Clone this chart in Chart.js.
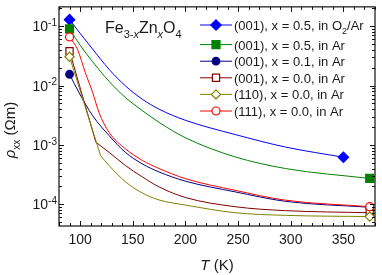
<!DOCTYPE html>
<html>
<head>
<meta charset="utf-8">
<script src="https://cdn.jsdelivr.net/npm/chart.js@4.4.0/dist/chart.umd.min.js"></script>
<style>
  html, body { margin: 0; padding: 0; background: #fff; }
  canvas { display: block; }
</style>
</head>
<body>
<canvas id="rho" width="382" height="275"></canvas>
<script>
// temperatures (K) and resistivities (Ohm m)
const tBlue = [90, 99, 112, 127.5, 143, 159, 175, 200, 247, 295, 350];
const rhoBlue = [0.129, 0.080, 0.041, 0.0188, 0.0099, 0.0059, 0.0040, 0.0026, 0.0015, 0.00092, 0.00062];

const tGreen = [90, 100, 112, 127.5, 143, 159, 175, 200, 247, 295, 375];
const rhoGreen = [0.090, 0.048, 0.0251, 0.0118, 0.0063, 0.0038, 0.0024, 0.00132, 0.00063, 0.00040, 0.000272];

const tNavy = [90, 99, 112, 127.5, 143, 159, 175, 200, 247, 295, 375];
const rhoNavy = [0.0155, 0.0076, 0.0031, 0.00144, 0.00075, 0.00048, 0.00035, 0.000245, 0.000162, 0.000112, 0.000089];

const tBrown = [90, 115, 127.5, 143, 159, 175, 200, 247, 295, 375];
const rhoBrown = [0.038, 0.00111, 0.00075, 0.00045, 0.00029, 0.000196, 0.00013, 0.000091, 0.000078, 0.000072];

const tOlive = [90, 119.5, 127.5, 143, 159, 175, 200, 247, 295, 375];
const rhoOlive = [0.0306, 0.00066, 0.00045, 0.00024, 0.000155, 0.000118, 0.000097, 0.000072, 0.000065, 0.000062];

const tRed = [90, 97.5, 105, 112, 118, 127.5, 143, 159, 175, 200, 247, 295, 375];
const rhoRed = [0.066, 0.041, 0.0165, 0.0076, 0.0035, 0.00163, 0.00086, 0.00055, 0.00040, 0.00027, 0.000172, 0.000117, 0.000091];

const seriesLabels = [
  '(001), x = 0.5, in O_2/Ar',
  '(001), x = 0.5, in Ar',
  '(001), x = 0.1, in Ar',
  '(001), x = 0.0, in Ar',
  '(110), x = 0.0, in Ar',
  '(111), x = 0.0, in Ar'
];

const xTicks = [100, 150, 200, 250, 300, 350];
const yDecades = [-4, -3, -2, -1];

const FONT = '"Liberation Sans", Arial, sans-serif';

const series = [
  { t: tBlue, rho: rhoBlue, color: '#0000ff', style: 'diamond', r: 5.2, open: false },
  { t: tGreen, rho: rhoGreen, color: '#008000', style: 'square', r: 4, open: false },
  { t: tNavy, rho: rhoNavy, color: '#000080', style: 'circle', r: 3.8, open: false },
  { t: tBrown, rho: rhoBrown, color: '#800000', style: 'square', r: 3.6, open: true, kink: true },
  { t: tOlive, rho: rhoOlive, color: '#808000', style: 'diamond', r: 4.6, open: true, kink: true },
  { t: tRed, rho: rhoRed, color: '#ff0000', style: 'circle', r: 4, open: true }
];

function pts(t, rho, from, to) {
  return t.slice(from, to).map((v, i) => ({ x: v, y: rho[from + i] }));
}

function marker(ctx, style, x, y, r) {
  ctx.beginPath();
  if (style === 'circle') {
    ctx.arc(x, y, r, 0, Math.PI * 2);
  } else if (style === 'square') {
    ctx.rect(x - r, y - r, 2 * r, 2 * r);
  } else {
    ctx.moveTo(x, y - r); ctx.lineTo(x + r, y); ctx.lineTo(x, y + r); ctx.lineTo(x - r, y);
    ctx.closePath();
  }
  ctx.fill();
  ctx.stroke();
}

// simple rich text: parts are [text, mode], mode has s=sub, u=sup, i=italic
function rich(ctx, parts, x, y, size, align) {
  const fontOf = m => (m.includes('i') ? 'italic ' : '') +
    ((m.includes('s') || m.includes('u')) ? Math.round(size * 0.68) : size) + 'px ' + FONT;
  const widths = parts.map(p => { ctx.font = fontOf(p[1]); return ctx.measureText(p[0]).width; });
  const total = widths.reduce((a, b) => a + b, 0);
  let cx = align === 'center' ? x - total / 2 : align === 'right' ? x - total : x;
  ctx.textAlign = 'left';
  ctx.textBaseline = 'alphabetic';
  parts.forEach((p, i) => {
    ctx.font = fontOf(p[1]);
    let dy = 0;
    if (p[1].includes('s')) dy = size * 0.3;
    if (p[1].includes('u')) dy = -size * 0.38;
    ctx.fillText(p[0], cx, y + dy);
    cx += widths[i];
  });
}

function labelParts(s) {
  const out = [];
  s.split(/(_\w)/).forEach(seg => {
    if (!seg) return;
    if (seg[0] === '_') out.push([seg.slice(1), 's']);
    else out.push([seg, '']);
  });
  return out;
}

const datasets = [];
series.forEach((s, k) => {
  const n = s.t.length;
  const common = {
    borderColor: s.color,
    borderWidth: 1,
    pointStyle: s.style === 'diamond' ? 'rectRot' : s.style === 'square' ? 'rect' : 'circle',
    pointBackgroundColor: s.open ? '#ffffff' : s.color,
    pointBorderColor: s.color,
    pointBorderWidth: 1.2,
    order: 20 - k
  };
  // Chart.js rect radius -> half side = r * sqrt(1/2)
  const rr = s.style === 'square' ? s.r / Math.SQRT1_2 : s.r;
  if (s.kink) {
    datasets.push({ ...common, data: pts(s.t, s.rho, 0, 2), tension: 0,
      pointRadius: c => c.dataIndex === 0 ? rr : 0 });
    datasets.push({ ...common, data: pts(s.t, s.rho, 1, n), cubicInterpolationMode: 'monotone',
      pointRadius: c => c.dataIndex === n - 2 ? rr : 0 });
  } else {
    datasets.push({ ...common, data: pts(s.t, s.rho, 0, n), cubicInterpolationMode: 'monotone',
      pointRadius: c => (c.dataIndex === 0 || c.dataIndex === n - 1) ? rr : 0 });
  }
});

const decorations = {
  id: 'decorations',
  afterDraw(chart) {
    const { ctx, chartArea: a, scales: { x, y } } = chart;
    ctx.save();
    ctx.strokeStyle = '#111';
    ctx.fillStyle = '#111';
    ctx.lineWidth = 1.2;
    ctx.strokeRect(a.left, a.top, a.right - a.left, a.bottom - a.top);

    const seg = (x1, y1, x2, y2) => { ctx.beginPath(); ctx.moveTo(x1, y1); ctx.lineTo(x2, y2); ctx.stroke(); };
    ctx.lineWidth = 1;
    // x ticks, inward, top and bottom
    for (let t = 80; t <= 380; t += 10) {
      const px = Math.round(x.getPixelForValue(t)) + 0.5;
      const len = xTicks.includes(t) ? 5 : 3;
      seg(px, a.bottom, px, a.bottom - len);
      seg(px, a.top, px, a.top + len);
    }
    // y ticks, log minors
    for (let d = -5; d <= -1; d++) {
      for (let m = 1; m <= 9; m++) {
        const v = m * Math.pow(10, d);
        if (v < y.min || v > y.max) continue;
        const py = Math.round(y.getPixelForValue(v)) + 0.5;
        const len = m === 1 ? 5 : 3;
        seg(a.left, py, a.left + len, py);
        seg(a.right, py, a.right - len, py);
      }
    }

    // tick labels
    ctx.fillStyle = '#1a1a1a';
    ctx.font = '14px ' + FONT;
    ctx.textAlign = 'center';
    ctx.textBaseline = 'alphabetic';
    xTicks.forEach(t => ctx.fillText(String(t), x.getPixelForValue(t), a.bottom + 18));
    yDecades.forEach(d => {
      const py = y.getPixelForValue(Math.pow(10, d));
      rich(ctx, [['10', ''], [String(d), 'u']], a.left - 2, py + 5, 14, 'right');
    });

    // axis titles
    rich(ctx, [['T', 'i'], [' (K)', '']], (a.left + a.right) / 2, 270, 15, 'center');
    ctx.save();
    ctx.translate(15, 130);
    ctx.rotate(-Math.PI / 2);
    rich(ctx, [['\u03c1', 'i'], ['xx', 's'], [' (\u03a9m)', '']], 0, 0, 15, 'center');
    ctx.restore();

    // compound name
    rich(ctx, [['Fe', ''], ['3-', 's'], ['x', 'si'], ['Zn', ''], ['x', 'si'], ['O', ''], ['4', 's']], 105, 33, 16, 'left');

    // legend
    series.forEach((s, i) => {
      const ly = i === 0 ? 25 : 28 + i * 16.6;
      ctx.strokeStyle = s.color;
      ctx.lineWidth = 1;
      seg(200, ly, 232, ly);
      ctx.fillStyle = s.open ? '#ffffff' : s.color;
      ctx.lineWidth = 1.2;
      marker(ctx, s.style, 216, ly, s.r);
      ctx.fillStyle = '#1a1a1a';
      rich(ctx, labelParts(seriesLabels[i]), 234, ly + 5, 13, 'left');
    });
    ctx.restore();
  }
};

new Chart(document.getElementById('rho'), {
  type: 'line',
  data: { datasets },
  options: {
    responsive: false,
    animation: false,
    devicePixelRatio: 1,
    events: [],
    layout: { padding: { left: 59, top: 5, right: 7, bottom: 49 } },
    scales: {
      x: { type: 'linear', min: 80, max: 380, display: false },
      y: { type: 'logarithmic', min: 4.3e-5, max: 0.212, display: false }
    },
    plugins: { legend: { display: false }, tooltip: { enabled: false } }
  },
  plugins: [decorations]
});
</script>
</body>
</html>
